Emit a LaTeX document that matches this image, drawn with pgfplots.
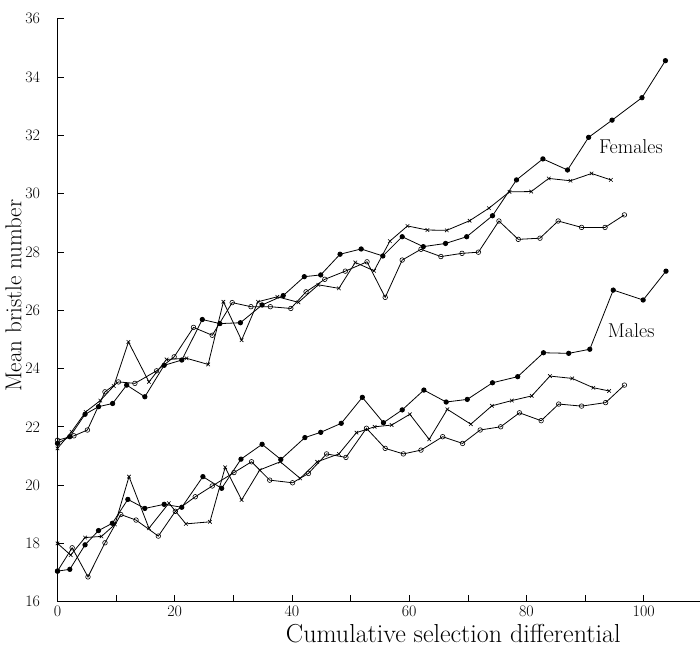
\documentclass[border=0pt]{standalone}
\usepackage{fontspec}
\usepackage{pgfplots}
\pgfplotsset{compat=1.18}
\begin{document}
\begin{tikzpicture}
\begin{axis}[
  name=ax,
  scale only axis,
  width=642.5pt, height=583pt,
  xmin=0, xmax=109.6, ymin=16, ymax=36,
  axis lines=left, axis line style={-, line width=0.8pt},
  xtick={0,10,...,100}, xticklabels={0,,20,,40,,60,,80,,100},
  ytick={16,18,...,36},
  /pgf/number format/assume math mode=true,
  tick align=inside, major tick length=7pt,
  tick style={line width=0.7pt, black},
  tick label style={font=\fontsize{16}{18}\selectfont},
  yticklabel shift=14pt,
  xticklabel shift=1pt,
  xlabel={Cumulative selection differential},
  ylabel={Mean bristle number},
  every axis x label/.style={at={(axis cs:67.5,16)}, yshift=-41pt, anchor=base, font=\fontsize{26}{30}\selectfont},
  every axis y label/.style={at={(axis description cs:0,0.525)}, xshift=-44pt, rotate=90, anchor=center, font=\fontsize{23}{26}\selectfont},
  clip=false,
  every axis plot/.append style={black, line width=0.8pt},
]
% Females
\addplot[mark=*, mark size=2.2pt] coordinates {(0,21.43)(2.1,21.66)(4.7,22.43)(7.0,22.69)(9.4,22.8)(11.8,23.43)(14.9,23.03)(18.2,24.11)(21.2,24.29)(24.7,25.68)(27.7,25.54)(31.2,25.57)(34.9,26.18)(38.5,26.5)(42.1,27.15)(44.9,27.21)(48.2,27.92)(51.8,28.1)(55.5,27.86)(58.8,28.52)(62.4,28.18)(66.2,28.29)(69.8,28.52)(74.2,29.24)(78.3,30.47)(82.8,31.19)(87.0,30.81)(90.6,31.93)(94.6,32.52)(99.7,33.29)(103.7,34.56)};
\addplot[mark=x, mark size=2.5pt, mark options={line width=0.6pt}] coordinates {(0,21.26)(2.4,21.83)(4.8,22.51)(7.3,22.9)(9.6,23.4)(12.1,24.91)(15.6,23.54)(18.6,24.31)(22.0,24.35)(25.7,24.14)(28.3,26.29)(31.4,24.97)(34.2,26.29)(37.5,26.46)(41.1,26.27)(44.5,26.87)(48.0,26.75)(50.8,27.64)(54.0,27.35)(56.7,28.37)(59.7,28.89)(63.1,28.75)(66.4,28.74)(70.3,29.07)(73.6,29.5)(77.1,30.06)(80.8,30.07)(83.8,30.52)(87.5,30.44)(91.1,30.69)(94.4,30.47)};
\addplot[mark=o, mark size=2.3pt, mark options={fill=white, line width=0.6pt}] coordinates {(0,21.54)(2.8,21.69)(5.1,21.89)(8.1,23.2)(10.4,23.54)(13.2,23.49)(16.9,23.92)(19.9,24.4)(23.2,25.41)(26.4,25.14)(29.8,26.26)(33.0,26.12)(36.3,26.12)(39.8,26.06)(42.4,26.63)(45.6,27.06)(49.1,27.34)(52.8,27.66)(55.9,26.44)(58.8,27.72)(62.0,28.09)(65.4,27.84)(69.0,27.95)(71.8,27.99)(75.3,29.06)(78.6,28.43)(82.3,28.47)(85.4,29.06)(89.4,28.84)(93.4,28.84)(96.7,29.27)};
% Males
\addplot[mark=*, mark size=2.2pt] coordinates {(0,17.05)(2.1,17.11)(4.7,17.95)(7.0,18.44)(9.35,18.69)(12.0,19.51)(14.9,19.2)(18.2,19.34)(21.2,19.24)(24.8,20.29)(28.0,19.89)(31.3,20.89)(34.9,21.4)(38.1,20.88)(42.2,21.63)(44.9,21.81)(48.4,22.12)(52.0,23.01)(55.6,22.14)(58.8,22.58)(62.5,23.26)(66.3,22.85)(69.9,22.94)(74.2,23.51)(78.5,23.72)(82.9,24.54)(87.2,24.52)(90.8,24.66)(94.8,26.69)(99.9,26.35)(103.8,27.34)};
\addplot[mark=x, mark size=2.5pt, mark options={line width=0.6pt}] coordinates {(0,18.0)(2.25,17.6)(4.7,18.2)(7.5,18.24)(9.8,18.65)(12.2,20.29)(15.6,18.52)(19.0,19.38)(21.9,18.67)(26.0,18.74)(28.6,20.61)(31.4,19.49)(34.5,20.52)(38.0,20.8)(41.4,20.23)(44.3,20.8)(48.0,21.07)(51.0,21.8)(54.1,22.0)(57.0,22.06)(60.1,22.43)(63.4,21.57)(66.5,22.6)(70.5,22.09)(74.1,22.72)(77.5,22.9)(80.9,23.06)(84.0,23.74)(87.8,23.66)(91.4,23.34)(94.1,23.23)};
\addplot[mark=o, mark size=2.3pt, mark options={fill=white, line width=0.6pt}] coordinates {(0,17.05)(2.5,17.85)(5.2,16.85)(8.1,18.02)(10.8,18.99)(13.4,18.8)(17.2,18.25)(20.1,19.1)(23.5,19.6)(26.4,19.97)(30.1,20.43)(33.1,20.8)(36.2,20.17)(40.1,20.08)(42.8,20.4)(45.9,21.07)(49.2,20.95)(52.7,21.95)(55.9,21.26)(59.0,21.07)(62.0,21.2)(65.7,21.66)(69.1,21.43)(72.1,21.89)(75.6,22.0)(78.8,22.48)(82.5,22.21)(85.5,22.78)(89.4,22.71)(93.5,22.83)(96.7,23.43)};
\node[anchor=west, font=\fontsize{20}{23}\selectfont] at (axis cs:91.8,31.6) {Females};
\node[anchor=west, font=\fontsize{20}{23}\selectfont] at (axis cs:93.3,25.3) {Males};
\end{axis}
\pgfresetboundingbox
\path ([xshift=-57.5pt,yshift=-45.3pt]ax.south west) rectangle ([yshift=18.7pt]ax.north east);
\end{tikzpicture}
\end{document}
